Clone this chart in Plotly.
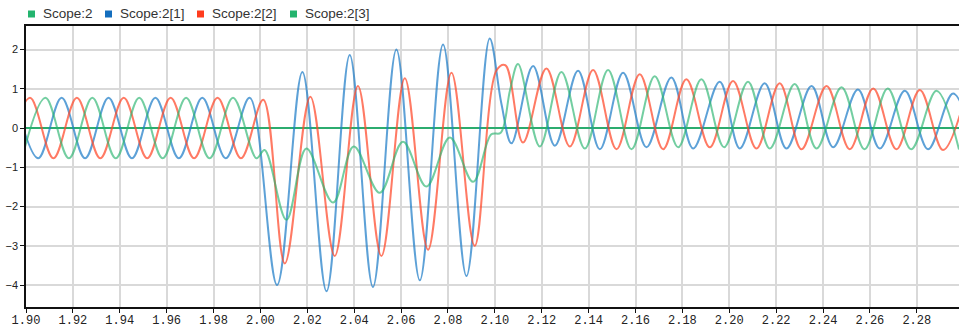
import plotly.graph_objects as go

# ---- data (extrema; time in s) ----
names = ["Scope:2", "Scope:2[1]", "Scope:2[2]", "Scope:2[3]"]
legend_colors = ["#23b46e", "#146ebe", "#ff3c1e", "#23b46e"]

t_zero = [1.88, 2.32]
v_zero = [0.0, 0.0]

t_blue = [1.8952, 1.9052, 1.9152, 1.9252, 1.9352, 1.9452, 1.9552, 1.9652, 1.9752, 1.9852,
          1.9954, 2.0071, 2.0179, 2.0282, 2.0381, 2.0480, 2.0580, 2.0680, 2.0779, 2.0879,
          2.0978, 2.1028, 2.1071, 2.1163, 2.1256, 2.1355, 2.1448, 2.1547, 2.1647, 2.1753,
          2.1846, 2.1959, 2.2045, 2.2151, 2.2244, 2.2351, 2.2443, 2.2549, 2.2642, 2.2749,
          2.2848, 2.2955, 2.3050]
v_blue = [0.77, -0.77, 0.77, -0.77, 0.77, -0.77, 0.77, -0.77, 0.77, -0.77,
          0.77, -4.00, 1.43, -4.16, 1.86, -4.05, 2.00, -3.88, 2.13, -3.77,
          2.28, 0.62, -0.39, 1.58, -0.45, 1.46, -0.54, 1.41, -0.49, 1.29,
          -0.52, 1.18, -0.52, 1.14, -0.52, 1.07, -0.49, 0.98, -0.52, 0.95,
          -0.54, 0.88, -0.55]

t_red = [1.8917, 1.9017, 1.9117, 1.9217, 1.9317, 1.9417, 1.9517, 1.9617, 1.9717, 1.9817,
         1.9917, 2.0012, 2.0104, 2.0213, 2.0317, 2.0416, 2.0516, 2.0616, 2.0715, 2.0815,
         2.0914, 2.1008, 2.1045, 2.1120, 2.1220, 2.1320, 2.1419, 2.1519, 2.1618, 2.1718,
         2.1817, 2.1917, 2.2016, 2.2116, 2.2215, 2.2308, 2.2415, 2.2514, 2.2614, 2.2713,
         2.2813, 2.2912, 2.3012]
v_red = [-0.77, 0.77, -0.77, 0.77, -0.77, 0.77, -0.77, 0.77, -0.77, 0.77,
         -0.77, 0.72, -3.45, 0.80, -3.26, 1.07, -3.26, 1.27, -3.10, 1.41,
         -3.00, 1.48, 1.60, -0.37, 1.52, -0.47, 1.48, -0.54, 1.37, -0.54,
         1.24, -0.49, 1.20, -0.52, 1.14, -0.54, 1.07, -0.54, 1.01, -0.54,
         0.97, -0.56, 0.92]

t_green = [1.8983, 1.9083, 1.9183, 1.9283, 1.9383, 1.9483, 1.9583, 1.9683, 1.9783, 1.9883,
           1.9983, 2.0018, 2.0111, 2.0196, 2.0310, 2.0398, 2.0509, 2.0608, 2.0708, 2.0808,
           2.0907, 2.0985, 2.1025, 2.1065, 2.1099, 2.1192, 2.1284, 2.1384, 2.1483, 2.1583,
           2.1682, 2.1782, 2.1881, 2.1978, 2.2080, 2.2173, 2.2279, 2.2372, 2.2479, 2.2577,
           2.2676, 2.2776, 2.2884, 2.2980]
v_green = [-0.77, 0.77, -0.77, 0.77, -0.77, 0.77, -0.77, 0.77, -0.77, 0.77,
           -0.77, -0.56, -2.34, -0.52, -1.90, -0.47, -1.65, -0.35, -1.49, -0.24,
           -1.37, -0.16, -0.12, 0.97, 1.63, -0.47, 1.43, -0.52, 1.48, -0.54,
           1.32, -0.49, 1.24, -0.49, 1.18, -0.52, 1.12, -0.52, 1.04, -0.54,
           1.01, -0.54, 0.95, -0.55]

x_ticks = [1.90, 1.92, 1.94, 1.96, 1.98, 2.00, 2.02, 2.04, 2.06, 2.08, 2.10,
           2.12, 2.14, 2.16, 2.18, 2.20, 2.22, 2.24, 2.26, 2.28]
y_ticks = [-4, -3, -2, -1, 0, 1, 2]

x_range = [1.90, 2.298]
y_range = [-4.56, 2.60]

line_colors = ["rgba(35,170,105,0.95)", "rgba(30,125,200,0.72)",
               "rgba(255,70,40,0.72)", "rgba(40,180,110,0.65)"]

# legend layout (pixels in the 959x328 page)
W, H = 959, 328
ML, MR, MT, MB = 26, 0, 26, 21
legend_square_px = [28, 105, 197, 290]
legend_y_px = 14

fig = go.Figure()
series = [(t_zero, v_zero), (t_blue, v_blue), (t_red, v_red), (t_green, v_green)]
for (tx, vy), col, nm in zip(series, line_colors, names):
    fig.add_trace(go.Scatter(x=tx, y=vy, mode="lines", name=nm, showlegend=False,
                             line=dict(color=col, width=2, shape="spline", smoothing=1),
                             hoverinfo="skip"))

pw, ph = W - ML - MR, H - MT - MB
def px_x(p):
    return (p - ML) / pw
def px_y(p):
    return (H - MB - p) / ph

shapes = []
annotations = []
for nm, col, sx in zip(names, legend_colors, legend_square_px):
    shapes.append(dict(type="rect", xref="paper", yref="paper",
                       x0=px_x(sx), x1=px_x(sx + 7),
                       y0=px_y(legend_y_px + 3.5), y1=px_y(legend_y_px - 3.5),
                       fillcolor=col, line=dict(width=0)))
    annotations.append(dict(xref="paper", yref="paper", x=px_x(sx + 13), y=px_y(legend_y_px),
                            xanchor="left", yanchor="middle", showarrow=False,
                            text=nm, font=dict(family="Liberation Sans", size=13.5, color="#333333")))

fig.update_layout(
    width=W, height=H,
    margin=dict(l=ML, r=MR, t=MT, b=MB, autoexpand=False),
    paper_bgcolor="white", plot_bgcolor="white",
    showlegend=False,
    shapes=shapes, annotations=annotations,
    xaxis=dict(range=x_range, tickvals=x_ticks, automargin=False,
               ticktext=[f"{v:.2f}" for v in x_ticks],
               showgrid=True, gridcolor="#d9d9d9", gridwidth=1.5,
               showline=True, linecolor="#111111", linewidth=1.5, mirror=True,
               ticks="outside", ticklen=4, tickcolor="#111111",
               ticklabelstandoff=-3,
               tickfont=dict(family="Liberation Mono", size=12, color="#222222"),
               zeroline=False),
    yaxis=dict(range=y_range, tickvals=y_ticks, automargin=False,
               showgrid=True, gridcolor="#d9d9d9", gridwidth=1.5,
               showline=True, linecolor="#111111", linewidth=1.5,
               ticks="outside", ticklen=4, tickcolor="#111111",
               tickfont=dict(family="Liberation Sans", size=11, color="#222222"),
               zeroline=False),
)

fig.write_html("out.html", config={"displayModeBar": False},
               post_script="document.body.style.margin='0';document.body.style.padding='0';")
